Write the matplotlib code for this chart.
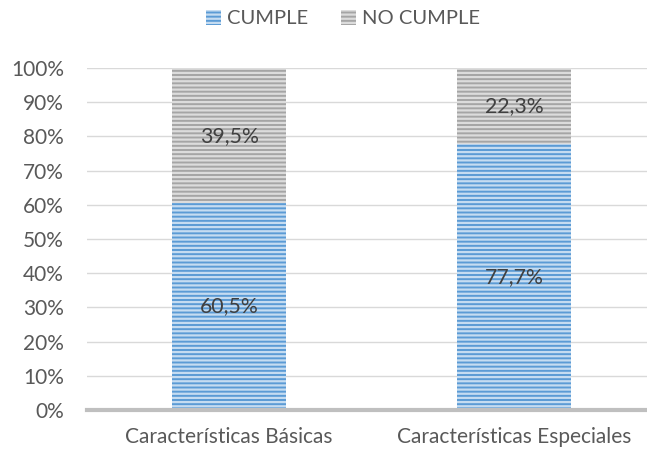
import matplotlib.pyplot as plt
import numpy as np

plt.rcParams['font.family'] = ['Lato', 'DejaVu Sans']
plt.rcParams['hatch.linewidth'] = 1.6

categories = ["Características Básicas", "Características Especiales"]
cumple = [60.5, 77.7]
no_cumple = [39.5, 22.3]
series = ["CUMPLE", "NO CUMPLE"]

face = ["#5B9BD5", "#A5A5A5"]
stripe = ["#C5DCF1", "#DCDCDC"]

fig = plt.figure(figsize=(6.47, 4.57), dpi=100)
ax = fig.add_axes([0.134, 0.103, 0.881, 0.748])

x = np.arange(len(categories))
w = 0.4
b1 = ax.bar(x, cumple, w, color=face[0], edgecolor=stripe[0], linewidth=0,
            hatch='----', label=series[0])
b2 = ax.bar(x, no_cumple, w, bottom=cumple, color=face[1], edgecolor=stripe[1],
            linewidth=0, hatch='----', label=series[1])

for i in range(len(categories)):
    ax.text(x[i], cumple[i] / 2, f"{cumple[i]:.1f}%".replace('.', ','),
            ha='center', va='center', fontsize=15.3, color='#404040')
    ax.text(x[i], cumple[i] + no_cumple[i] / 2, f"{no_cumple[i]:.1f}%".replace('.', ','),
            ha='center', va='center', fontsize=15.3, color='#404040')

ax.set_xlim(-0.5, 1.5)
ax.set_ylim(0, 100)
ax.set_yticks(range(0, 101, 10))
ax.set_yticklabels([f"{v}%" for v in range(0, 101, 10)])
ax.set_xticks(x)
ax.set_xticklabels(categories)
ax.tick_params(length=0, labelsize=15, labelcolor='#595959')
ax.tick_params(axis='x', pad=12)
ax.tick_params(axis='y', pad=16.5)
ax.yaxis.grid(True, color='#D9D9D9', linewidth=1)
ax.set_axisbelow(True)
for s in ['top', 'right', 'left']:
    ax.spines[s].set_visible(False)
ax.spines['bottom'].set_color('#BFBFBF')
ax.spines['bottom'].set_linewidth(3)

fig.legend(handles=[b1, b2], loc='upper center', bbox_to_anchor=(0.53, 1.018),
           ncol=2, frameon=False, fontsize=14.5, handlelength=0.75, handleheight=0.75,
           handletextpad=0.3, columnspacing=1.6, labelcolor='#595959')

fig.savefig('out.png', dpi=100)
